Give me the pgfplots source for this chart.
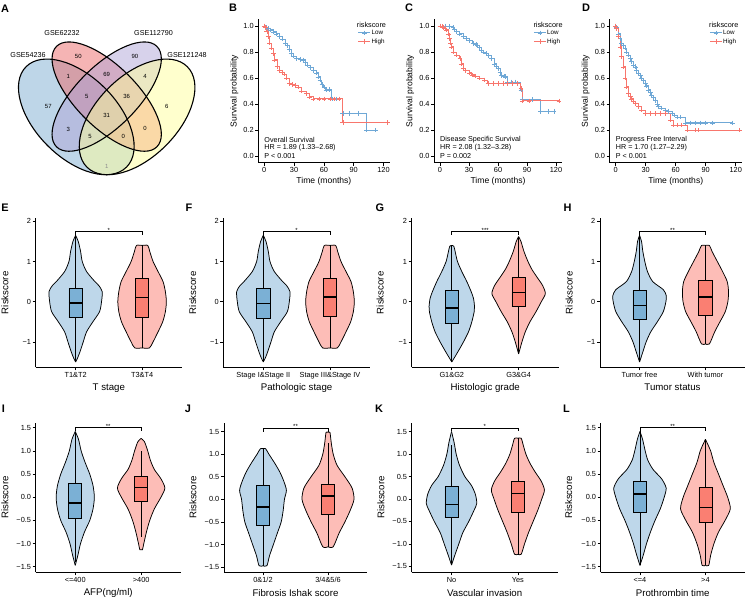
\documentclass[border=0pt]{standalone}
\usepackage{fontspec}
\setmainfont{Liberation Sans}
\usepackage{pgfplots}
\pgfplotsset{compat=1.18}
\usepackage{pgfplotstable}

\newcommand{\fs}[1]{\fontsize{#1}{#1}\selectfont}

\definecolor{kmblue}{HTML}{6FA8D6}
\definecolor{kmred}{HTML}{F8766D}
\definecolor{vbluef}{HTML}{BED7EA}
\definecolor{vblueb}{HTML}{7BB0D5}
\definecolor{vredf}{HTML}{FDBDB7}
\definecolor{vredb}{HTML}{FA7F72}
\definecolor{vnA}{HTML}{7DADD1}
\definecolor{vnB}{HTML}{EB6969}
\definecolor{vnC}{HTML}{AFA5D7}
\definecolor{vnD}{HTML}{FFFF9B}

\pgfplotsset{
  base/.style={scale only axis, anchor=south west, clip=false,
    axis x line*=bottom, axis y line*=left,
    tick align=outside, major tick length=3bp,
    axis line style={line width=0.75bp, black},
    every tick/.append style={line width=0.7bp, black},
    /pgf/number format/assume math mode=true,
    tick label style={font=\fs{7.4}},
    xticklabel style={inner sep=1.5bp},
    yticklabel style={inner sep=1.5bp}},
  xlab/.style={every axis x label/.style={at={(axis description cs:0.5,#1)}, anchor=center}},
  ylab/.style={every axis y label/.style={at={(axis description cs:#1,0.5)}, rotate=90, anchor=center}},
  km/.style={base, ylab=#1, xlab=-0.133, height=143.2bp,
    xmin=-6, xmax=126, ymin=-0.05, ymax=1.05,
    xtick={0,30,60,90,120}, ytick={0,0.2,0.4,0.6,0.8,1},
    yticklabels={0.0,0.2,0.4,0.6,0.8,1.0},
    xlabel={Time (months)}, ylabel={Survival probability},
    label style={font=\fs{8.6}},
    legend cell align=left,
    legend style={anchor=north west, draw=none, fill=none, font=\fs{6.3},
      row sep=1.2bp, inner sep=0pt,
      nodes={inner sep=0.8bp, text height=4.8bp, text depth=1.2bp}}},
  kmcurve/.style={const plot, line width=0.85bp, mark=+, mark size=2.3bp,
    mark options={solid, line width=0.5bp}},
  vio/.style={base, ylab=#1, xlab=-0.137, xmin=0.4, xmax=2.6, xtick={1,2},
    ylabel={Riskscore}, label style={font=\fs{9.7}}},
  row2/.style={height=149bp, ymin=-1.632, ymax=2.075, ytick={-1,0,1,2},
    yticklabels={−1,0,1,2}},
  row3/.style={height=149.6bp, ytick={-1.5,-1,-0.5,0,0.5,1,1.5},
    yticklabels={−1.5,−1.0,−0.5,0.0,0.5,1.0,1.5}},
  vline/.style={black, line width=0.75bp, smooth, tension=0.45},
}
\pgfplotsset{legend image code/.code={\draw[mark repeat=2,mark phase=2,#1] plot coordinates {(0bp,0bp) (6bp,0bp) (12bp,0bp)};}}

% violin: id, center, table, colour  (each half closed along the centre line)
\newcommand{\violin}[4]{%
  \addplot[fill=#4, draw=#4, line width=0.3bp, smooth, tension=0.45, forget plot] table[x expr=#2+\thisrow{w}, y=y]{#3};
  \addplot[fill=#4, draw=#4, line width=0.3bp, smooth, tension=0.45, forget plot] table[x expr=#2-\thisrow{w}, y=y]{#3};
  \addplot[vline, forget plot] table[x expr=#2+\thisrow{w}, y=y]{#3};
  \addplot[vline, forget plot] table[x expr=#2-\thisrow{w}, y=y]{#3};
}
% box: left, centre, right, lo, q1, med, q3, hi, colour
\newcommand{\vbx}[9]{%
  \addplot[black, line width=0.7bp, forget plot] coordinates {(#2,#4) (#2,#8)};
  \addplot[fill=#9, draw=black, line width=0.75bp, line join=miter, forget plot] coordinates {(#1,#5) (#3,#5) (#3,#7) (#1,#7) (#1,#5) (#3,#5)};
  \addplot[black, line width=1.6bp, forget plot] coordinates {(#1,#6) (#3,#6)};
}
% bracket: y, y of ends, label
\newcommand{\bracket}[3]{%
  \addplot[black, line width=0.7bp, forget plot] coordinates {(1,#2) (1,#1) (2,#1) (2,#2)};
  \node[font=\fs{6}, anchor=base, inner sep=0pt, yshift=-0.5bp] at (axis cs:1.5,#1) {#3};
}

\pgfplotstableread{
y w
-1.50 0
-1.40 0.03
-1.25 0.065
-1.00 0.115
-0.75 0.165
-0.50 0.26
-0.25 0.36
0.00 0.39
0.25 0.40
0.40 0.35
0.50 0.29
0.75 0.165
1.00 0.10
1.25 0.075
1.50 0.04
1.65 0
}\vEb
\pgfplotstableread{
y w
-1.15 0
-1.15 0.11
-1.00 0.165
-0.75 0.24
-0.50 0.31
-0.25 0.35
0.00 0.365
0.25 0.35
0.50 0.315
0.75 0.24
1.00 0.165
1.25 0.115
1.40 0.085
1.40 0
}\vEr
\pgfplotstableread{
y w
-1.50 0
-1.25 0.09
-1.00 0.175
-0.75 0.25
-0.50 0.30
-0.25 0.335
-0.12 0.34
0.08 0.325
0.25 0.29
0.50 0.225
0.75 0.15
1.00 0.085
1.25 0.05
1.38 0.03
1.40 0
}\vGb
\pgfplotstableread{
y w
-1.30 0
-1.00 0.05
-0.75 0.10
-0.50 0.17
-0.25 0.26
0.00 0.34
0.20 0.40
0.40 0.36
0.60 0.28
0.80 0.20
1.00 0.14
1.25 0.08
1.50 0.035
1.62 0
}\vGr
\pgfplotstableread{
y w
-1.50 0
-1.25 0.05
-1.00 0.10
-0.75 0.17
-0.50 0.27
-0.25 0.36
0.00 0.40
0.15 0.405
0.30 0.36
0.50 0.20
0.75 0.12
1.00 0.08
1.25 0.05
1.50 0.03
1.65 0
}\vHb
\pgfplotstableread{
y w
-1.05 0
-1.05 0.06
-0.75 0.14
-0.50 0.22
-0.25 0.30
0.00 0.34
0.25 0.35
0.50 0.33
0.75 0.26
1.00 0.18
1.25 0.10
1.40 0.06
1.40 0
}\vHr
\pgfplotstableread{
y w
-1.47 0
-1.25 0.04
-1.00 0.08
-0.75 0.14
-0.50 0.22
-0.25 0.27
0.00 0.29
0.25 0.27
0.50 0.22
0.75 0.15
1.00 0.09
1.25 0.05
1.42 0
}\vIb
\pgfplotstableread{
y w
-1.13 0
-1.13 0.02
-1.00 0.04
-0.75 0.08
-0.50 0.13
-0.25 0.20
0.00 0.30
0.20 0.36
0.40 0.30
0.60 0.20
0.80 0.14
1.00 0.10
1.20 0.05
1.27 0
}\vIr
\pgfplotstableread{
y w
-1.47 0
-1.47 0.06
-1.25 0.10
-1.00 0.16
-0.75 0.22
-0.50 0.28
-0.25 0.31
0.00 0.33
0.20 0.36
0.40 0.32
0.60 0.26
0.80 0.18
1.00 0.09
1.12 0.04
1.12 0
}\vJb
\pgfplotstableread{
y w
-1.05 0
-1.05 0.08
-0.75 0.17
-0.50 0.26
-0.25 0.34
0.00 0.40
0.25 0.37
0.50 0.26
0.75 0.14
1.00 0.08
1.25 0.05
1.48 0.03
1.48 0
}\vJr
\pgfplotstableread{
y w
-1.47 0
-1.25 0.05
-1.00 0.11
-0.75 0.17
-0.50 0.26
-0.25 0.34
-0.10 0.38
0.10 0.36
0.30 0.30
0.50 0.20
0.75 0.12
1.00 0.07
1.25 0.04
1.50 0
}\vKb
\pgfplotstableread{
y w
-1.23 0
-1.23 0.05
-1.00 0.10
-0.75 0.16
-0.50 0.23
-0.25 0.30
0.00 0.36
0.20 0.40
0.40 0.35
0.60 0.26
0.80 0.18
1.00 0.12
1.20 0.08
1.35 0.05
1.35 0
}\vKr
\pgfplotstableread{
y w
-1.47 0
-1.25 0.05
-1.00 0.10
-0.75 0.16
-0.50 0.23
-0.25 0.31
0.00 0.37
0.20 0.40
0.40 0.33
0.60 0.20
0.80 0.12
1.00 0.08
1.25 0.04
1.42 0
}\vLb
\pgfplotstableread{
y w
-1.47 0
-1.47 0.05
-1.25 0.08
-1.00 0.13
-0.75 0.20
-0.50 0.30
-0.25 0.38
0.00 0.34
0.25 0.27
0.50 0.20
0.75 0.13
1.00 0.08
1.10 0.05
1.25 0
}\vLr

\begin{document}
\begin{tikzpicture}

% ---------------- A: Venn ----------------
\begin{axis}[hide axis, x=1bp, y=1bp, xmin=0, xmax=200, ymin=-200, ymax=0,
  at={(0bp,399bp)}, anchor=south west, clip=false]
\fill[vnA, fill opacity=0.5, rotate around={-45:(axis cs:76.3,-116.9)}] (axis cs:76.3,-116.9) ellipse [x radius=71bp, y radius=40.6bp];
\fill[vnB, fill opacity=0.5, rotate around={-45:(axis cs:106.7,-96.6)}] (axis cs:106.7,-96.6) ellipse [x radius=71bp, y radius=30.5bp];
\fill[vnC, fill opacity=0.5, rotate around={45:(axis cs:106.7,-96.6)}] (axis cs:106.7,-96.6) ellipse [x radius=71bp, y radius=30.5bp];
\fill[vnD, fill opacity=0.5, rotate around={45:(axis cs:137.1,-116.9)}] (axis cs:137.1,-116.9) ellipse [x radius=71bp, y radius=40.6bp];
\draw[black, line width=1.1bp, rotate around={-45:(axis cs:76.3,-116.9)}] (axis cs:76.3,-116.9) ellipse [x radius=71bp, y radius=40.6bp];
\draw[black, line width=1.1bp, rotate around={-45:(axis cs:106.7,-96.6)}] (axis cs:106.7,-96.6) ellipse [x radius=71bp, y radius=30.5bp];
\draw[black, line width=1.1bp, rotate around={45:(axis cs:106.7,-96.6)}] (axis cs:106.7,-96.6) ellipse [x radius=71bp, y radius=30.5bp];
\draw[black, line width=1.1bp, rotate around={45:(axis cs:137.1,-116.9)}] (axis cs:137.1,-116.9) ellipse [x radius=71bp, y radius=40.6bp];
\begin{scope}[every node/.style={font=\fs{6}, inner sep=0pt}]
\node at (axis cs:48.3,-106.7) {57};
\node at (axis cs:78.3,-56.7) {50};
\node at (axis cs:135,-56.7) {90};
\node at (axis cs:166.7,-106.7) {6};
\node at (axis cs:68.3,-76.7) {1};
\node at (axis cs:106.7,-74.3) {69};
\node at (axis cs:145,-76.7) {4};
\node at (axis cs:86.7,-96) {5};
\node at (axis cs:126.7,-96) {36};
\node at (axis cs:106.7,-115) {31};
\node at (axis cs:68.3,-129.3) {3};
\node at (axis cs:145,-128.3) {0};
\node at (axis cs:90,-136.7) {5};
\node at (axis cs:123.3,-136.7) {0};
\node[text=black!45] at (axis cs:106.7,-166) {1};
\end{scope}
\begin{scope}[every node/.style={font=\fs{7.2}, inner sep=0pt}]
\node at (axis cs:28,-55) {GSE54236};
\node at (axis cs:62,-33) {GSE62232};
\node at (axis cs:153.5,-33) {GSE112790};
\node at (axis cs:187,-55) {GSE121248};
\end{scope}
\end{axis}

% ---------------- B ----------------
\begin{axis}[km=-0.183, at={(258.3bp,436.3bp)}, width=131.2bp,
  legend style={at={(0.758,0.935)}}]
\addplot[kmcurve, kmblue] table[row sep=\\]{
t s\\ 0 1\\ 2 0.99\\ 4 0.98\\ 6 0.97\\ 9 0.955\\ 12 0.94\\ 15 0.92\\ 18 0.90\\ 21 0.87\\ 23 0.85\\ 25 0.82\\ 27 0.79\\ 29 0.77\\ 32 0.75\\ 36 0.745\\ 39 0.74\\ 41 0.72\\ 43 0.70\\ 46 0.68\\ 49 0.66\\ 52 0.64\\ 54 0.61\\ 56 0.585\\ 58 0.55\\ 60 0.53\\ 62 0.51\\ 65 0.51\\ 68 0.44\\ 72 0.44\\ 79 0.33\\ 86 0.33\\ 95 0.33\\ 103 0.20\\ 112 0.20\\
};
\addlegendentry{Low}
\addplot[kmcurve, kmred] table[row sep=\\]{
t s\\ 0 1\\ 1 0.99\\ 2.5 0.96\\ 4 0.92\\ 5.5 0.87\\ 7 0.83\\ 9 0.79\\ 10.5 0.74\\ 12.8 0.69\\ 15 0.66\\ 18 0.645\\ 20 0.63\\ 22.4 0.60\\ 25 0.56\\ 28 0.55\\ 31 0.545\\ 34.5 0.53\\ 37.7 0.50\\ 42.5 0.48\\ 45.7 0.456\\ 49 0.44\\ 55 0.44\\ 60 0.44\\ 66 0.44\\ 70 0.44\\ 75 0.44\\ 79 0.26\\ 124 0.26\\
};
\addlegendentry{High}
\begin{scope}[every node/.style={font=\fs{7.2}, inner sep=0pt, anchor=west}]
\node at (axis cs:0,0.125) {Overall Survival};
\node at (axis cs:0,0.062) {HR = 1.89 (1.33–2.68)};
\node at (axis cs:0,-0.002) {P < 0.001};
\end{scope}
\end{axis}

% ---------------- C ----------------
\begin{axis}[km=-0.188, at={(434.2bp,436.3bp)}, width=127.6bp,
  legend style={at={(0.777,0.935)}}]
\addplot[kmcurve, kmblue] table[row sep=\\]{
t s\\ 0 1\\ 5 1\\ 10 0.995\\ 13.6 0.99\\ 15 0.975\\ 17 0.956\\ 20 0.94\\ 24 0.92\\ 27 0.905\\ 30.7 0.89\\ 34 0.867\\ 37 0.86\\ 39 0.854\\ 41 0.835\\ 42.7 0.815\\ 45 0.80\\ 47.8 0.79\\ 50 0.775\\ 53 0.75\\ 56 0.71\\ 58 0.69\\ 60 0.675\\ 62 0.645\\ 63.5 0.62\\ 66 0.615\\ 68 0.61\\ 70 0.57\\ 74 0.57\\ 78 0.57\\ 83.6 0.51\\ 85 0.435\\ 95 0.435\\ 104 0.345\\ 112 0.345\\ 118 0.345\\
};
\addlegendentry{Low}
\addplot[kmcurve, kmred] table[row sep=\\]{
t s\\ 0 1\\ 2 0.995\\ 3.4 0.99\\ 5 0.98\\ 6.8 0.97\\ 8.5 0.94\\ 10 0.905\\ 11 0.87\\ 12 0.84\\ 13.6 0.80\\ 17 0.777\\ 20.5 0.75\\ 22 0.71\\ 24 0.675\\ 26.6 0.66\\ 30.7 0.64\\ 33 0.625\\ 36 0.615\\ 41 0.60\\ 46 0.585\\ 49.5 0.56\\ 55 0.56\\ 60 0.56\\ 65 0.56\\ 70 0.56\\ 75 0.56\\ 80 0.56\\ 83.6 0.52\\ 85 0.425\\ 92 0.425\\ 123 0.425\\
};
\addlegendentry{High}
\begin{scope}[every node/.style={font=\fs{7.2}, inner sep=0pt, anchor=west}]
\node at (axis cs:0,0.125) {Disease Specific Survival};
\node at (axis cs:0,0.062) {HR = 2.08 (1.32–3.28)};
\node at (axis cs:0,-0.002) {P = 0.002};
\end{scope}
\end{axis}

% ---------------- D ----------------
\begin{axis}[km=-0.182, at={(609.7bp,436.3bp)}, width=132bp,
  legend style={at={(0.755,0.935)}}]
\addplot[kmcurve, kmblue] table[row sep=\\]{
t s\\ 0 1\\ 1 0.99\\ 2.7 0.94\\ 4.4 0.905\\ 6 0.867\\ 8 0.85\\ 9.4 0.83\\ 11 0.80\\ 12.8 0.777\\ 14.5 0.75\\ 16 0.726\\ 18 0.70\\ 19.5 0.687\\ 21 0.66\\ 23 0.636\\ 24.5 0.62\\ 26 0.60\\ 28 0.58\\ 29.6 0.56\\ 31 0.54\\ 33 0.51\\ 35 0.49\\ 36 0.47\\ 38 0.45\\ 39.7 0.43\\ 41.5 0.40\\ 43 0.38\\ 46 0.37\\ 50 0.354\\ 53 0.345\\ 56.5 0.33\\ 59 0.315\\ 61.6 0.30\\ 65 0.30\\ 70 0.256\\ 75 0.256\\ 80 0.256\\ 85 0.256\\ 90 0.256\\ 97 0.256\\ 117 0.256\\
};
\addlegendentry{Low}
\addplot[kmcurve, kmred] table[row sep=\\]{
t s\\ 0 1\\ 1 0.98\\ 2.7 0.92\\ 4.4 0.84\\ 6 0.764\\ 7.7 0.687\\ 9.4 0.60\\ 11 0.533\\ 12.8 0.48\\ 14.5 0.46\\ 16 0.44\\ 18 0.42\\ 19.5 0.405\\ 23 0.38\\ 26 0.354\\ 29.6 0.33\\ 35 0.33\\ 40 0.33\\ 45 0.33\\ 50 0.33\\ 55 0.277\\ 58 0.24\\ 62 0.24\\ 66 0.24\\ 72 0.20\\ 80 0.20\\ 83 0.20\\ 124 0.20\\
};
\addlegendentry{High}
\begin{scope}[every node/.style={font=\fs{7.2}, inner sep=0pt, anchor=west}]
\node at (axis cs:0,0.125) {Progress Free Interval};
\node at (axis cs:0,0.062) {HR = 1.70 (1.27–2.29)};
\node at (axis cs:0,-0.002) {P < 0.001};
\end{scope}
\end{axis}

\begin{scope}[every node/.style={font=\fs{7.3}, inner sep=0pt, anchor=west}]
\node at (356.7bp,574bp) {riskscore};
\node at (533.3bp,574bp) {riskscore};
\node at (709bp,574bp) {riskscore};
\end{scope}

% ---------------- E ----------------
\begin{axis}[vio=-0.21, row2, at={(35.7bp,231.7bp)}, width=146.3bp,
  xticklabels={T1\&T2,T3\&T4}, xlabel={T stage}]
\violin{eb}{1}{\vEb}{vbluef}
\violin{er}{2}{\vEr}{vredf}
\vbx{0.9}{1}{1.1}{-1.5}{-0.40}{-0.03}{0.33}{1.65}{vblueb}
\vbx{1.9}{2}{2.1}{-1.15}{-0.38}{0.10}{0.58}{1.40}{vredb}
\bracket{1.74}{1.67}{*}
\end{axis}

% ---------------- F ----------------
\begin{axis}[vio=-0.209, row2, at={(223.3bp,231.7bp)}, width=146.7bp,
  xticklabels={Stage I\&Stage II,Stage III\&Stage IV}, xlabel={Pathologic stage}]
\violin{fb}{1}{\vEb}{vbluef}
\violin{fr}{2}{\vEr}{vredf}
\vbx{0.9}{1}{1.1}{-1.5}{-0.42}{-0.04}{0.33}{1.65}{vblueb}
\vbx{1.9}{2}{2.1}{-1.15}{-0.37}{0.12}{0.57}{1.40}{vredb}
\bracket{1.74}{1.67}{*}
\end{axis}

% ---------------- G ----------------
\begin{axis}[vio=-0.214, row2, at={(411.7bp,231.7bp)}, width=147bp,
  xticklabels={G1\&G2,G3\&G4}, xlabel={Histologic grade}]
\violin{gb}{1}{\vGb}{vbluef}
\violin{gr}{2}{\vGr}{vredf}
\vbx{0.9}{1}{1.1}{-1.5}{-0.55}{-0.15}{0.27}{1.40}{vblueb}
\vbx{1.9}{2}{2.1}{-1.30}{-0.12}{0.23}{0.60}{1.62}{vredb}
\bracket{1.74}{1.67}{***}
\end{axis}

% ---------------- H ----------------
\begin{axis}[vio=-0.212, row2, at={(600bp,231.7bp)}, width=145bp,
  xticklabels={Tumor free,With tumor}, xlabel={Tumor status}]
\violin{hb}{1}{\vHb}{vbluef}
\violin{hr}{2}{\vHr}{vredf}
\vbx{0.9}{1}{1.1}{-1.5}{-0.45}{-0.09}{0.27}{1.65}{vblueb}
\vbx{1.9}{2}{2.1}{-1.05}{-0.35}{0.11}{0.53}{1.40}{vredb}
\bracket{1.74}{1.67}{**}
\end{axis}

% ---------------- I ----------------
\begin{axis}[vio=-0.212, row3, ymin=-1.619, ymax=1.61, at={(35.7bp,26.7bp)}, width=145bp,
  xticklabels={<=400,>400}, xlabel={AFP(ng/ml)}]
\violin{ib}{1}{\vIb}{vbluef}
\violin{ir}{2}{\vIr}{vredf}
\vbx{0.9}{1}{1.1}{-1.40}{-0.45}{-0.12}{0.30}{1.40}{vblueb}
\vbx{1.9}{2}{2.1}{-0.85}{-0.08}{0.21}{0.45}{1.00}{vredb}
\bracket{1.50}{1.43}{**}
\end{axis}

% ---------------- J ----------------
\begin{axis}[vio=-0.217, row3, ymin=-1.615, ymax=1.695, at={(224bp,26.7bp)}, width=143bp,
  xticklabels={0\&1/2,3/4\&5/6}, xlabel={Fibrosis Ishak score}]
\violin{jb}{1}{\vJb}{vbluef}
\violin{jr}{2}{\vJr}{vredf}
\vbx{0.9}{1}{1.1}{-1.47}{-0.58}{-0.17}{0.30}{1.12}{vblueb}
\vbx{1.9}{2}{2.1}{-1.05}{-0.33}{0.07}{0.32}{1.24}{vredb}
\bracket{1.57}{1.50}{**}
\end{axis}

% ---------------- K ----------------
\begin{axis}[vio=-0.21, row3, ymin=-1.631, ymax=1.696, at={(411.7bp,26.7bp)}, width=146bp,
  xticklabels={No,Yes}, xlabel={Vascular invasion}]
\violin{kb}{1}{\vKb}{vbluef}
\violin{kr}{2}{\vKr}{vredf}
\vbx{0.9}{1}{1.1}{-1.47}{-0.42}{-0.12}{0.27}{1.20}{vblueb}
\vbx{1.9}{2}{2.1}{-1.23}{-0.30}{0.12}{0.38}{1.35}{vredb}
\bracket{1.58}{1.51}{*}
\end{axis}

% ---------------- L ----------------
\begin{axis}[vio=-0.222, row3, ymin=-1.619, ymax=1.61, at={(600.7bp,26.7bp)}, width=144bp,
  xticklabels={<=4,>4}, xlabel={Prothrombin time}]
\violin{lb}{1}{\vLb}{vbluef}
\violin{lr}{2}{\vLr}{vredf}
\vbx{0.9}{1}{1.1}{-1.47}{-0.33}{0.07}{0.35}{1.42}{vblueb}
\vbx{1.9}{2}{2.1}{-1.47}{-0.55}{-0.22}{0.22}{1.25}{vredb}
\bracket{1.50}{1.43}{**}
\end{axis}

% panel letters
\begin{scope}[every node/.style={font=\bfseries\fs{11}, inner sep=0pt}]
\node at (5bp,590.5bp) {A};
\node at (233bp,591.5bp) {B};
\node at (409bp,591.5bp) {C};
\node at (586bp,591.5bp) {D};
\node at (5bp,391.5bp) {E};
\node at (189bp,391.5bp) {F};
\node at (380bp,391.5bp) {G};
\node at (567.5bp,391.5bp) {H};
\node at (3.5bp,190bp) {I};
\node at (188bp,190bp) {J};
\node at (379bp,190bp) {K};
\node at (566.5bp,190bp) {L};
\end{scope}

\pgfresetboundingbox
\path[use as bounding box] (0bp,0bp) rectangle (746bp,599bp);
\end{tikzpicture}
\end{document}
